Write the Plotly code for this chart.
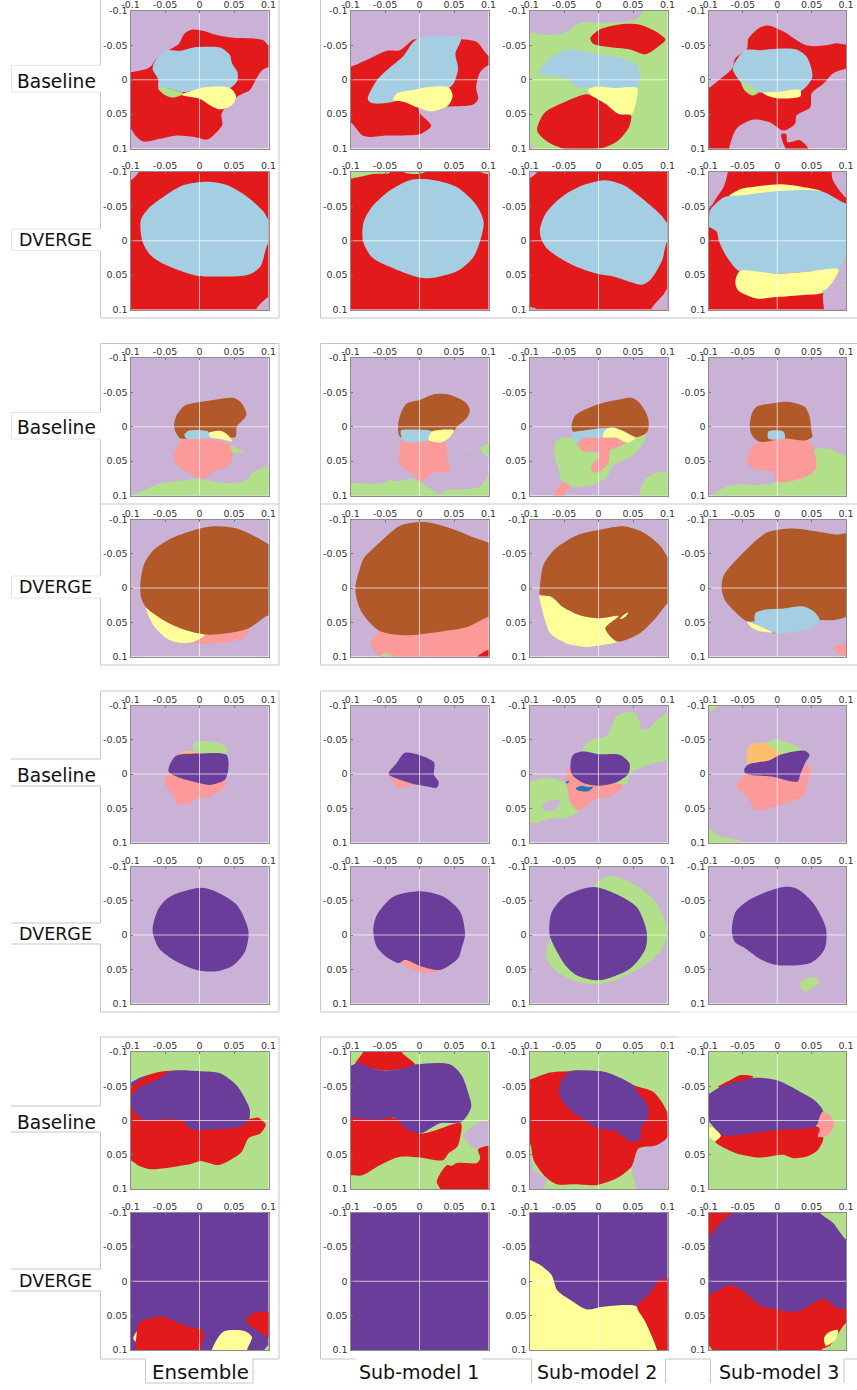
import plotly.graph_objects as go

# ---- palette ----
PALETTE = dict(lilac="#cab2d6", red="#e31a1c", sky="#a6cee3", green="#b2df8a", yellow="#ffff99",
               brown="#b15928", pink="#fb9a99", purple="#6a3d9a", orange="#fdbf6f", blue="#1f78b4")

TICKS = [-0.1, -0.05, 0, 0.05, 0.1]
TICK_TEXT = ["-0.1", "-0.05", "0", "0.05", "0.1"]
ROW_LABELS = ["Baseline", "DVERGE"]
COL_LABELS = ["Ensemble", "Sub-model 1", "Sub-model 2", "Sub-model 3"]

# ---- decision regions: (class colour, outline as (x, y) in units of 0.001), painted in order ----
A_B_E = [("lilac", None),
 ("red", [(-110,-11),(-100,-11),(-76,-16),(-69,-21),(-63,-30),(-43,-44),(-30,-52),(-22,-67),(-10,-73),(6,-71),(25,-65),(49,-61),(78,-60),(93,-57),(100,-50),(110,-50),(110,-18),(100,-18),(90,-13),(81,1),(73,15),(54,25),(32,49),(33,66),(20,81),(11,87),(-9,83),(-33,81),(-57,86),(-81,90),(-93,81),(-100,71),(-110,71)]),
 ("sky", [(-47,-43),(-28,-42),(-9,-47),(11,-48),(30,-47),(44,-36),(47,-24),(55,-11),(55,1),(44,12),(11,12),(-23,18),(-43,13),(-59,12),(-60,-1),(-68,-16),(-62,-31)]),
 ("green", [(-60,12),(-43,13),(-23,20),(-38,26),(-52,21)]),
 ("yellow", [(-26,22),(-11,16),(8,11),(44,12),(53,24),(47,37),(30,43),(15,37),(1,28)])]
A_B_1 = [("lilac", None),
 ("red", [(-110,-19),(-100,-19),(-76,-29),(-47,-42),(-28,-43),(-9,-58),(3,-60),(61,-59),(83,-55),(100,-35),(110,-35),(110,-21),(100,-21),(88,-11),(82,11),(85,28),(78,36),(42,39),(-1,40),(1,49),(17,67),(1,79),(-23,81),(-47,81),(-81,82),(-100,62),(-110,62)]),
 ("sky", [(-9,-55),(3,-62),(28,-64),(60,-60),(52,-38),(56,-16),(49,6),(42,12),(10,12),(-26,25),(-38,32),(-69,34),(-75,28),(-62,1),(-45,-16),(-23,-35)]),
 ("yellow", [(-38,30),(-33,20),(-9,15),(11,11),(42,11),(48,23),(42,37),(18,46),(-4,40),(-23,32)])]
A_B_2 = [("green", None),
 ("lilac", [(-110,-110),(66,-110),(65,-100),(56,-89),(36,-84),(2,-83),(-27,-83),(-48,-69),(-70,-65),(-100,-69),(-110,-69)]),
 ("lilac", [(-110,93),(-100,93),(-92,100),(-92,110),(-110,110)]),
 ("red", [(-12,-60),(2,-73),(36,-81),(60,-80),(85,-69),(97,-58),(89,-50),(68,-37),(46,-44),(12,-48),(-7,-52)]),
 ("sky", [(-87,-10),(-70,-31),(-43,-44),(-2,-37),(31,-32),(56,-21),(60,-6),(56,12),(29,13),(2,10),(-27,12),(-46,-1),(-65,-5)]),
 ("yellow", [(-16,15),(-2,10),(22,12),(56,12),(55,30),(48,50),(29,49),(10,35),(-7,25)]),
 ("red", [(-89,74),(-79,49),(-55,35),(-17,21),(-7,25),(10,35),(29,50),(47,52),(44,69),(29,88),(7,99),(-51,100),(-77,88)])]
A_B_3 = [("lilac", None),
 ("red", [(-110,12),(-100,12),(-83,-1),(-66,-16),(-61,-31),(-44,-45),(-42,-60),(-25,-76),(-13,-79),(9,-70),(42,-50),(71,-50),(86,-53),(100,-51),(110,-51),(110,-16),(100,-16),(81,-9),(67,6),(50,20),(48,40),(28,52),(26,64),(9,74),(-11,62),(-35,58),(-59,71),(-70,100),(-70,110),(-110,110)]),
 ("red", [(6,79),(13,79),(15,91),(33,88),(45,100),(45,110),(12,110),(12,100),(8,91)]),
 ("sky", [(-61,-26),(-47,-43),(-25,-43),(-1,-45),(28,-44),(43,-33),(51,-4),(35,16),(-1,19),(-35,17),(-52,5),(-65,-16)]),
 ("green", [(-52,5),(-40,8),(-28,19),(-36,23),(-47,16)]),
 ("yellow", [(-21,19),(-1,18),(33,15),(34,24),(-1,27),(-15,23)])]

A_D_E = [("red", None),
 ("lilac", [(-110,-110),(-88,-110),(-88,-100),(-100,-88),(-110,-88)]),
 ("lilac", [(82,100),(100,82),(110,82),(110,110),(82,110)]),
 ("sky", [(-85,-30),(-74,-47),(-52,-64),(-23,-81),(11,-86),(40,-81),(69,-64),(93,-42),(100,-30),(110,-20),(110,10),(100,4),(88,38),(69,50),(25,52),(-4,51),(-47,36),(-71,21),(-83,0)])]
A_D_1 = [("red", None),
 ("green", [(-110,-110),(-45,-110),(-43,-99),(-67,-97),(-96,-91),(-110,-91)]),
 ("green", [(-23,-105),(8,-105),(8,-100),(-6,-97),(-23,-100)]),
 ("green", [(88,-100),(110,-105),(110,-97),(100,-97)]),
 ("sky", [(-81,-27),(-69,-49),(-43,-73),(-14,-88),(15,-89),(54,-78),(83,-51),(93,-27),(88,0),(78,24),(57,43),(25,53),(1,54),(-43,38),(-69,24),(-82,0)])]
A_D_2 = [("red", None),
 ("lilac", [(-110,-110),(-89,-110),(-89,-100),(-100,-91),(-110,-91)]),
 ("lilac", [(-110,96),(-100,96),(-89,100),(-89,110),(-110,110)]),
 ("lilac", [(76,100),(95,77),(100,70),(110,70),(110,110),(76,110)]),
 ("sky", [(-85,-15),(-77,-39),(-53,-64),(-22,-81),(10,-88),(36,-81),(60,-64),(89,-39),(100,-25),(110,-10),(110,10),(100,2),(92,29),(75,57),(63,64),(46,60),(22,52),(-2,48),(-36,36),(-72,14),(-82,0)])]
A_D_3 = [("red", None),
 ("lilac", [(-110,-110),(-72,-110),(-72,-100),(-78,-78),(-88,-63),(-100,-46),(-110,-46)]),
 ("lilac", [(79,-110),(79,-100),(81,-88),(100,-63),(110,-63),(110,-110)]),
 ("lilac", [(88,43),(67,77),(68,100),(68,110),(110,110),(110,30),(100,24)]),
 ("yellow", [(-72,-63),(-54,-75),(-30,-79),(4,-82),(33,-79),(64,-72),(47,-66),(-49,-61)]),
 ("sky", [(-110,-30),(-100,-30),(-98,-44),(-78,-63),(-54,-66),(-1,-72),(64,-72),(100,-54),(110,-54),(110,25),(100,24),(89,42),(43,45),(-1,48),(-54,45),(-73,24),(-85,0),(-88,-13),(-100,-20),(-110,-20)]),
 ("yellow", [(-54,44),(-1,48),(43,45),(89,42),(67,75),(38,79),(-1,82),(-30,84),(-57,72),(-61,60)]),
 ("green", [(66,72),(72,71),(66,77)]),
 ("green", [(93,64),(98,64),(95,67)])]

B_B_E = [("lilac", None),
 ("green", [(-100,100),(-81,92),(-62,84),(-33,79),(1,76),(20,80),(49,82),(68,78),(78,66),(100,58),(110,58),(110,110),(-110,110),(-110,100)]),
 ("pink", [(-26,19),(1,17),(30,21),(45,27),(48,44),(40,58),(20,65),(6,76),(-14,68),(-35,53),(-38,44),(-33,32)]),
 ("brown", [(-37,-2),(-33,-17),(-21,-31),(1,-36),(20,-39),(49,-42),(61,-34),(68,-17),(54,0),(52,15),(20,12),(-18,17),(-28,17),(-35,7)]),
 ("sky", [(-22,12),(-16,6),(1,5),(13,7),(14,15),(1,17),(-18,18)]),
 ("yellow", [(14,9),(30,6),(40,11),(47,21),(30,18),(15,15)]),
 ("green", [(45,27),(56,32),(64,35),(49,39)])]
B_B_1 = [("lilac", None),
 ("green", [(-100,82),(-52,82),(-43,77),(-33,79),(-9,76),(3,82),(15,90),(28,98),(40,92),(69,91),(88,87),(97,75),(100,68),(110,68),(110,110),(-110,110),(-110,82)]),
 ("green", [(100,24),(88,32),(93,39),(100,44),(110,44),(110,24)]),
 ("green", [(66,32),(71,32),(68,34)]),
 ("pink", [(-26,19),(1,21),(38,24),(40,41),(43,65),(20,67),(2,80),(-9,70),(-30,53),(-28,34)]),
 ("brown", [(-31,-2),(-26,-22),(-18,-34),(0,-39),(20,-47),(42,-47),(66,-36),(73,-24),(68,-12),(54,0),(49,7),(1,12),(-28,15)]),
 ("sky", [(-27,5),(-16,4),(18,7),(15,19),(-23,21),(-26,15)]),
 ("yellow", [(18,7),(47,4),(50,5),(42,17),(30,23),(13,19)])]
B_B_2 = [("lilac", None),
 ("green", [(-64,27),(-58,18),(-36,17),(-19,32),(2,39),(51,17),(69,12),(65,24),(51,41),(22,56),(12,73),(-7,84),(-41,87),(-55,75),(-58,61),(-63,46)]),
 ("pink", [(-65,100),(-53,82),(-41,85),(-50,100),(-50,110),(-65,110)]),
 ("green", [(59,100),(63,85),(72,73),(89,65),(100,68),(110,68),(110,110),(59,110)]),
 ("pink", [(-31,24),(-24,17),(2,15),(26,16),(41,23),(29,29),(17,34),(14,53),(-2,67),(-10,63),(-10,56),(0,44),(-2,36),(-22,36)]),
 ("brown", [(-39,-2),(-33,-17),(-2,-32),(22,-38),(48,-42),(60,-34),(72,-12),(71,7),(56,15),(34,5),(12,2),(-17,5),(-37,7)]),
 ("sky", [(-38,9),(-17,5),(12,3),(7,15),(-24,17),(-30,25),(-36,19)]),
 ("yellow", [(12,3),(22,1),(36,7),(53,17),(41,23),(26,16),(6,15)])]
B_B_3 = [("lilac", None),
 ("green", [(-95,100),(-68,85),(-6,82),(57,32),(76,32),(100,42),(110,42),(110,110),(-95,110)]),
 ("pink", [(-44,50),(-35,27),(-6,16),(47,22),(55,41),(56,61),(41,73),(-1,80),(-6,66),(-35,61)]),
 ("brown", [(-40,0),(-37,-19),(-30,-29),(-1,-35),(18,-36),(40,-29),(47,-15),(50,7),(51,15),(40,20),(11,17),(-25,22),(-37,12)]),
 ("sky", [(-13,17),(-13,7),(-6,5),(9,7),(11,17)])]

B_D_E = [("lilac", None),
 ("pink", [(-26,80),(6,69),(71,58),(71,66),(61,75),(20,81),(-9,81)]),
 ("yellow", [(-77,29),(-47,50),(-18,62),(8,68),(-9,79),(-28,80),(-47,74),(-67,54)]),
 ("brown", [(-86,-1),(-81,-33),(-67,-55),(-42,-72),(-9,-84),(20,-90),(54,-87),(83,-74),(100,-64),(110,-60),(110,45),(100,40),(71,59),(40,66),(10,68),(-18,62),(-47,50),(-77,29),(-84,16)])]
B_D_1 = [("lilac", None),
 ("pink", [(-59,62),(-23,69),(30,64),(100,41),(110,41),(110,110),(-40,110),(-40,100),(-57,100),(-71,81),(-64,71)]),
 ("green", [(-57,100),(-50,95),(-40,100),(-40,110),(-57,110)]),
 ("red", [(84,100),(100,90),(110,90),(110,110),(84,110)]),
 ("brown", [(-93,-1),(-88,-23),(-81,-43),(-57,-67),(-28,-91),(11,-96),(54,-84),(78,-74),(100,-66),(110,-60),(110,40),(100,42),(69,57),(35,63),(-23,69),(-59,62),(-84,35),(-91,16)])]
B_D_2 = [("lilac", None),
 ("yellow", [(-85,10),(-68,13),(-51,28),(-26,40),(2,44),(29,41),(10,59),(27,78),(7,83),(-17,86),(-46,81),(-70,66),(-77,49),(-82,30)]),
 ("brown", [(-85,0),(-80,-33),(-63,-57),(-31,-77),(2,-85),(36,-90),(65,-81),(89,-62),(100,-45),(110,-20),(110,20),(100,23),(82,45),(60,66),(27,78),(10,59),(29,41),(2,44),(-26,40),(-51,28),(-68,13),(-85,10)]),
 ("yellow", [(31,45),(41,36),(43,36),(39,42),(34,45)])]
B_D_3 = [("lilac", None),
 ("pink", [(81,88),(100,80),(110,80),(110,100),(100,100),(88,95)]),
 ("brown", [(-81,0),(-78,-18),(-54,-47),(-15,-81),(23,-87),(67,-81),(86,-78),(100,-80),(110,-80),(110,30),(100,42),(81,47),(62,47),(-6,66),(-32,49),(-44,49),(-66,30),(-76,18)]),
 ("sky", [(-32,53),(-32,37),(-20,32),(9,30),(38,27),(54,35),(62,48),(40,61),(9,66),(-7,65),(-30,54)]),
 ("yellow", [(-44,49),(-32,53),(-7,65),(-25,63),(-37,58)])]

C_B_E = [("lilac", None),
 ("green", [(-10,-42),(-4,-47),(11,-48),(35,-42),(41,-31),(1,-30),(-6,-33)]),
 ("orange", [(-30,-29),(-18,-34),(1,-30)]),
 ("pink", [(-51,8),(-43,-1),(-4,6),(38,11),(36,20),(20,30),(13,35),(1,34),(-13,42),(-33,44),(-38,30),(-47,20)]),
 ("purple", [(-45,-4),(-35,-26),(1,-30),(39,-28),(42,-9),(37,8),(15,16),(-9,11),(-28,6)])]
C_B_1 = [("lilac", None),
 ("pink", [(-47,3),(-35,6),(-6,15),(-21,19),(-33,21),(-38,11)]),
 ("purple", [(-45,0),(-33,-16),(-21,-31),(21,-17),(21,1),(28,12),(25,20),(10,18),(-14,13),(-35,6)])]
C_B_2 = [("lilac", None),
 ("green", [(-24,-32),(-12,-49),(12,-56),(27,-85),(51,-90),(58,-80),(64,-64),(75,-68),(84,-78),(100,-89),(110,-89),(110,-27),(100,-20),(70,-13),(46,0),(41,14),(26,19),(-12,16)]),
 ("green", [(-110,12),(-100,12),(-80,6),(-63,7),(-48,14),(-45,24),(-41,41),(-30,55),(-51,65),(-70,65),(-92,72),(-100,70),(-110,70)]),
 ("lilac", [(-77,41),(-60,38),(-56,38),(-63,53),(-77,53),(-82,48)]),
 ("pink", [(-46,-3),(-43,-10),(-34,-8),(7,12),(36,16),(29,24),(14,34),(-2,36),(-30,53),(-41,41),(-43,26),(-48,9)]),
 ("purple", [(-40,-20),(-36,-29),(-22,-33),(2,-29),(31,-28),(45,-15),(43,0),(26,12),(2,17),(-22,13),(-39,0)]),
 ("blue", [(-33,21),(-24,17),(-17,19),(-8,19),(-14,25),(-27,25)]),
 ("blue", [(-48,12),(-42,10),(-45,14)])]
C_B_3 = [("lilac", None),
 ("green", [(-110,-110),(-86,-110),(-86,-100),(-93,-94),(-100,-92),(-110,-92)]),
 ("green", [(-110,79),(-100,79),(-88,89),(-52,99),(-52,110),(-110,110)]),
 ("green", [(-18,-44),(-1,-50),(18,-45),(40,-34),(4,-28)]),
 ("orange", [(-44,-29),(-40,-42),(-18,-45),(4,-28),(-11,-20),(-42,-14)]),
 ("pink", [(-58,14),(-42,-2),(33,7),(35,-5),(43,-14),(49,-5),(45,7),(39,31),(-1,47),(-32,52),(-42,36),(-57,21)]),
 ("purple", [(-48,-7),(-42,-14),(-11,-20),(4,-28),(40,-34),(47,-28),(40,-15),(33,2),(30,11),(13,9),(-6,4),(-35,2),(-47,-2)])]

C_D_E = [("lilac", None),
 ("purple", [(-68,-7),(-59,-39),(-43,-56),(1,-69),(20,-65),(54,-44),(71,-5),(66,24),(49,44),(25,53),(-4,51),(-38,36),(-59,19)])]
C_D_1 = [("lilac", None),
 ("pink", [(-45,33),(-21,36),(30,51),(11,56),(-9,51),(-28,41)]),
 ("purple", [(-67,-7),(-62,-29),(-38,-56),(1,-64),(35,-56),(59,-34),(66,0),(61,19),(56,34),(30,51),(3,46),(-21,36),(-30,41),(-45,34),(-62,17)])]
C_D_2 = [("lilac", None),
 ("green", [(-75,20),(-70,6),(-7,-71),(14,-86),(46,-77),(80,-52),(94,-28),(100,-1),(92,20),(70,42),(36,61),(2,72),(-27,69),(-60,54),(-75,35)]),
 ("purple", [(-71,-1),(-68,-33),(-48,-57),(-7,-70),(27,-59),(56,-40),(70,-4),(68,20),(46,49),(2,66),(-31,59),(-48,44),(-65,15)])]
C_D_3 = [("lilac", None),
 ("green", [(33,71),(43,64),(57,62),(60,69),(50,79),(38,82)]),
 ("purple", [(-66,-4),(-61,-33),(-40,-52),(9,-70),(28,-68),(52,-47),(71,-9),(69,20),(50,40),(1,44),(-25,35),(-49,18),(-61,11)])]

D_B_E = [("green", None),
 ("red", [(-110,-51),(-100,-51),(-76,-66),(-52,-72),(-33,-72),(1,-54),(49,-34),(72,-3),(85,-4),(96,6),(88,19),(71,26),(61,46),(44,58),(27,65),(1,59),(-14,64),(-33,67),(-71,71),(-88,66),(-100,58),(-110,58)]),
 ("purple", [(-100,-32),(-86,-49),(-62,-59),(-43,-72),(1,-72),(30,-69),(54,-51),(66,-32),(73,-15),(71,0),(59,9),(20,13),(-11,13),(-26,0),(-43,-2),(-76,0),(-93,-10)]),
 ("purple", [(-100,-54),(-85,-63),(-75,-66),(-85,-60),(-100,-50)])]
D_B_1 = [("green", None),
 ("red", [(-93,-83),(-82,-100),(-82,-110),(-26,-110),(-26,-100),(-6,-81),(-33,-74),(-62,-74),(-90,-82)]),
 ("red", [(-110,-10),(-100,-10),(-38,-4),(1,19),(60,4),(59,24),(55,38),(42,48),(34,58),(1,54),(-28,53),(-57,65),(-83,80),(-100,80),(-110,80)]),
 ("purple", [(-110,-80),(-100,-80),(-89,-84),(-62,-74),(-33,-74),(-4,-82),(44,-82),(61,-66),(71,-39),(75,-20),(61,2),(30,4),(1,19),(-16,14),(-38,-4),(-62,-1),(-100,-4),(-110,-4)]),
 ("lilac", [(63,23),(83,4),(100,0),(110,0),(110,47),(100,37),(81,41),(69,31)]),
 ("red", [(25,89),(40,65),(47,66),(54,62),(83,62),(88,55),(85,42),(100,37),(110,37),(110,110),(30,110),(30,100)])]
D_B_2 = [("green", None),
 ("lilac", [(-110,46),(-100,46),(-94,72),(-75,87),(-80,100),(-80,110),(-110,110)]),
 ("lilac", [(48,67),(58,43),(84,36),(100,24),(110,24),(110,110),(55,110),(55,100)]),
 ("red", [(-110,-60),(-100,-60),(-70,-70),(-43,-72),(7,-71),(52,-51),(79,-42),(93,-25),(100,-10),(100,24),(84,36),(58,41),(48,67),(27,84),(-2,94),(-36,93),(-60,93),(-77,82),(-94,58),(-100,33),(-110,33)]),
 ("purple", [(-53,-59),(-41,-72),(-17,-73),(12,-70),(51,-51),(58,-39),(70,-25),(72,-5),(61,12),(61,26),(51,31),(36,24),(26,16),(-2,11),(-27,-5),(-46,-20),(-57,-39)])]
D_B_3 = [("green", None),
 ("red", [(-86,-49),(-68,-59),(-54,-66),(-35,-64),(-69,-47)]),
 ("red", [(-90,31),(-83,19),(-1,12),(59,9),(67,26),(59,43),(42,53),(23,55),(9,50),(-25,54),(-59,48),(-81,38)]),
 ("purple", [(-110,-39),(-100,-39),(-83,-49),(-35,-62),(-1,-59),(33,-42),(55,-29),(67,-13),(62,2),(52,10),(-1,14),(-40,19),(-81,21),(-100,2),(-110,2)]),
 ("pink", [(66,-13),(76,-8),(83,4),(74,21),(59,24),(62,12),(59,7)]),
 ("yellow", [(-110,9),(-100,9),(-93,11),(-82,22),(-90,30),(-100,24),(-110,24)])]

D_D_E = [("purple", None),
 ("red", [(-93,100),(-88,61),(-76,55),(-52,52),(-23,64),(6,73),(1,100),(1,110),(-93,110)]),
 ("yellow", [(-96,83),(-91,73),(-93,88)]),
 ("yellow", [(18,100),(25,85),(35,73),(64,72),(76,81),(69,100),(69,110),(18,110)]),
 ("red", [(68,59),(76,47),(100,44),(110,44),(110,88),(100,82),(83,71)]),
 ("green", [(94,100),(100,93),(110,93),(110,110),(94,110)])]
D_D_1 = [("purple", None)]
D_D_2 = [("purple", None),
 ("yellow", [(-110,-31),(-100,-31),(-85,-24),(-68,-9),(-60,13),(-41,27),(-17,41),(7,37),(56,37),(68,59),(85,100),(85,110),(-110,110)]),
 ("red", [(56,37),(75,17),(87,0),(100,-5),(110,-5),(110,110),(85,110),(85,100),(68,59)])]
D_D_3 = [("purple", None),
 ("red", [(-110,-110),(-65,-110),(-65,-100),(-81,-87),(-100,-65),(-110,-65)]),
 ("green", [(62,-110),(62,-100),(81,-85),(100,-61),(110,-61),(110,-110)]),
 ("red", [(-110,20),(-100,20),(-78,9),(-69,5),(-49,15),(-25,35),(-1,41),(30,44),(67,26),(84,37),(100,41),(110,41),(110,110),(-110,110)]),
 ("green", [(64,110),(64,100),(77,93),(100,61),(110,61),(110,110)]),
 ("green", [(-110,93),(-100,93),(-95,100),(-95,110),(-110,110)]),
 ("yellow", [(68,83),(74,75),(88,71),(86,83),(71,94)])]

GRID = [[A_B_E, A_B_1, A_B_2, A_B_3], [A_D_E, A_D_1, A_D_2, A_D_3],
        [B_B_E, B_B_1, B_B_2, B_B_3], [B_D_E, B_D_1, B_D_2, B_D_3],
        [C_B_E, C_B_1, C_B_2, C_B_3], [C_D_E, C_D_1, C_D_2, C_D_3],
        [D_B_E, D_B_1, D_B_2, D_B_3], [D_D_E, D_D_1, D_D_2, D_D_3]]
FULL = [(-110,-110),(110,-110),(110,110),(-110,110)]

# ---- layout (pixels of the 857x1390 page) ----
W, H = 857, 1390
def fx(px):
    return px / W
def fy(py):
    return 1 - py / H

COL_X = [(130.5,268.5),(350.5,488.5),(529.5,667.5),(708.5,846)]
ROW_Y = [(11,148.5),(172,309.5),(358,495.5),(519.5,656.5),(705.5,842.5),(866.5,1003.5),(1052,1189),(1212.5,1350)]
ROW_LABEL_POS = [(56,81,0),(55,240,1),(56,428,0),(55,587,1),(56,775,0),(55,934,1),(56,1122,0),(55,1281,1)]
ROW_LABEL_SIZE = [18.6, 17.5]
COL_LABEL_POS = [(200.5,1372),(419,1372),(597,1372),(779,1372)]
COL_LABEL_SIZE = [19.8, 19, 19, 19]
LINE = "#c6c6c6"
FAINT = "#e6e6e6"
SEGS = [
 (100.5,0,100.5,65.5),(100.5,92,100.5,229),(100.5,250.5,100.5,318),(279,0,279,318),(100.5,318,279,318),
 (320.5,0,320.5,318),(320.5,318,857,318),
 (100.5,343.5,279,343.5),(100.5,504,279,504),(100.5,665,279,665),(279,343.5,279,665),
 (100.5,343.5,100.5,412.5),(100.5,439,100.5,576),(100.5,598,100.5,665),
 (320.5,343.5,320.5,665),(320.5,343.5,857,343.5),(320.5,504,857,504),(320.5,665,857,665),
 (100.5,691,279,691),(100.5,1012,279,1012),(279,691,279,1012),
 (100.5,691,100.5,759),(100.5,786,100.5,923),(100.5,944,100.5,1012),
 (11,759,100.5,759),(11,786,100.5,786),(11,923,100.5,923),(11,944,100.5,944),
 (320.5,691,320.5,1012),(320.5,691,857,691),(320.5,1012,680,1012),
 (100.5,1037,279,1037),(279,1037,279,1359),(100.5,1037,100.5,1106),(100.5,1132,100.5,1269),(100.5,1291,100.5,1359),
 (11,1106,100.5,1106),(11,1132,100.5,1132),(11,1269,100.5,1269),(11,1291,100.5,1291),
 (100.5,1359,145.5,1359),(253,1359,279,1359),(145.5,1359,145.5,1383),(253,1359,253,1383),(145.5,1383,253,1383),
 (320.5,1037,320.5,1359),(320.5,1037,678,1037),(320.5,1359,356,1359),(482,1359,531.5,1359),
 (665.5,1359,710.5,1359),(844,1359,857,1359),
 (531.5,1359,531.5,1383),(665.5,1359,665.5,1383),(710.5,1359,710.5,1383),(844,1359,844,1383),
]
FAINT_SEGS = [
 (11.5,65.5,100.5,65.5),(11.5,92,100.5,92),(11.5,65.5,11.5,92),
 (11.5,229,100.5,229),(11.5,250.5,100.5,250.5),(11.5,229,11.5,250.5),
 (11.5,412.5,100.5,412.5),(11.5,439,100.5,439),(11.5,412.5,11.5,439),
 (11.5,576,100.5,576),(11.5,598,100.5,598),(11.5,576,11.5,598),
 (680,691,857,691),(680,1012,857,1012),(678,1037,857,1037),
]

fig = go.Figure()
FONT = "DejaVu Sans"
layout_axes = {}
n = 0
for r, row in enumerate(GRID):
    for c, regions in enumerate(row):
        n += 1
        sfx = "" if n == 1 else str(n)
        xa, ya = "x" + sfx, "y" + sfx
        for colour, outline in regions:
            pts = outline if outline is not None else FULL
            xs = [p[0] / 1000 for p in pts] + [pts[0][0] / 1000]
            ys = [p[1] / 1000 for p in pts] + [pts[0][1] / 1000]
            fig.add_trace(go.Scatter(
                x=xs, y=ys, xaxis=xa, yaxis=ya, mode="lines", fill="toself",
                fillcolor=PALETTE[colour], hoverinfo="skip", showlegend=False,
                line=dict(width=0, color=PALETTE[colour],
                          shape="linear" if outline is None else "spline", smoothing=0.8)))
        fig.add_trace(go.Scatter(x=[0, 0, None, -0.1, 0.1], y=[-0.1, 0.1, None, 0, 0], xaxis=xa, yaxis=ya,
                                 mode="lines", hoverinfo="skip", showlegend=False,
                                 line=dict(width=1, color="rgba(255,255,255,0.65)")))
        common = dict(tickmode="array", tickvals=TICKS, ticktext=TICK_TEXT, automargin=False,
                      tickfont=dict(family=FONT, size=9.5, color="#333333"),
                      ticks="inside", ticklen=2, tickwidth=1, tickcolor="#777777",
                      showgrid=False, zeroline=False, showline=True, mirror=True,
                      linecolor="#8c8c8c", linewidth=1, fixedrange=True)
        x0, x1 = COL_X[c]
        y0, y1 = ROW_Y[r]
        xc = dict(common); xc.update(range=[-0.1, 0.1], side="top", anchor=ya, ticklabelstandoff=-2,
                                     domain=[fx(x0), fx(x1)])
        yc = dict(common); yc.update(range=[0.1, -0.1], side="left", anchor=xa,
                                     domain=[fy(y1), fy(y0)])
        layout_axes["xaxis" + sfx] = xc
        layout_axes["yaxis" + sfx] = yc

shapes = []
for segs, col in ((SEGS, LINE), (FAINT_SEGS, FAINT)):
    for (a, b, c_, d) in segs:
        shapes.append(dict(type="line", xref="paper", yref="paper", layer="below",
                           x0=fx(a), x1=fx(c_), y0=fy(b), y1=fy(d),
                           line=dict(color=col, width=1)))

annotations = []
for (px, py, k) in ROW_LABEL_POS:
    annotations.append(dict(text=ROW_LABELS[k], xref="paper", yref="paper", x=fx(px), y=fy(py),
                            xanchor="center", yanchor="middle", showarrow=False,
                            font=dict(family=FONT, size=ROW_LABEL_SIZE[k], color="#111111")))
for (px, py), t, s in zip(COL_LABEL_POS, COL_LABELS, COL_LABEL_SIZE):
    annotations.append(dict(text=t, xref="paper", yref="paper", x=fx(px), y=fy(py),
                            xanchor="center", yanchor="middle", showarrow=False,
                            font=dict(family=FONT, size=s, color="#111111")))

fig.update_layout(width=W, height=H, autosize=False,
                  margin=dict(l=0, r=0, t=0, b=0, pad=0, autoexpand=False), paper_bgcolor="white",
                  plot_bgcolor="white", showlegend=False, shapes=shapes, annotations=annotations,
                  **layout_axes)
fig.write_html("out.html", config=dict(displayModeBar=False),
               post_script="document.documentElement.style.margin='0';document.body.style.margin='0';")
